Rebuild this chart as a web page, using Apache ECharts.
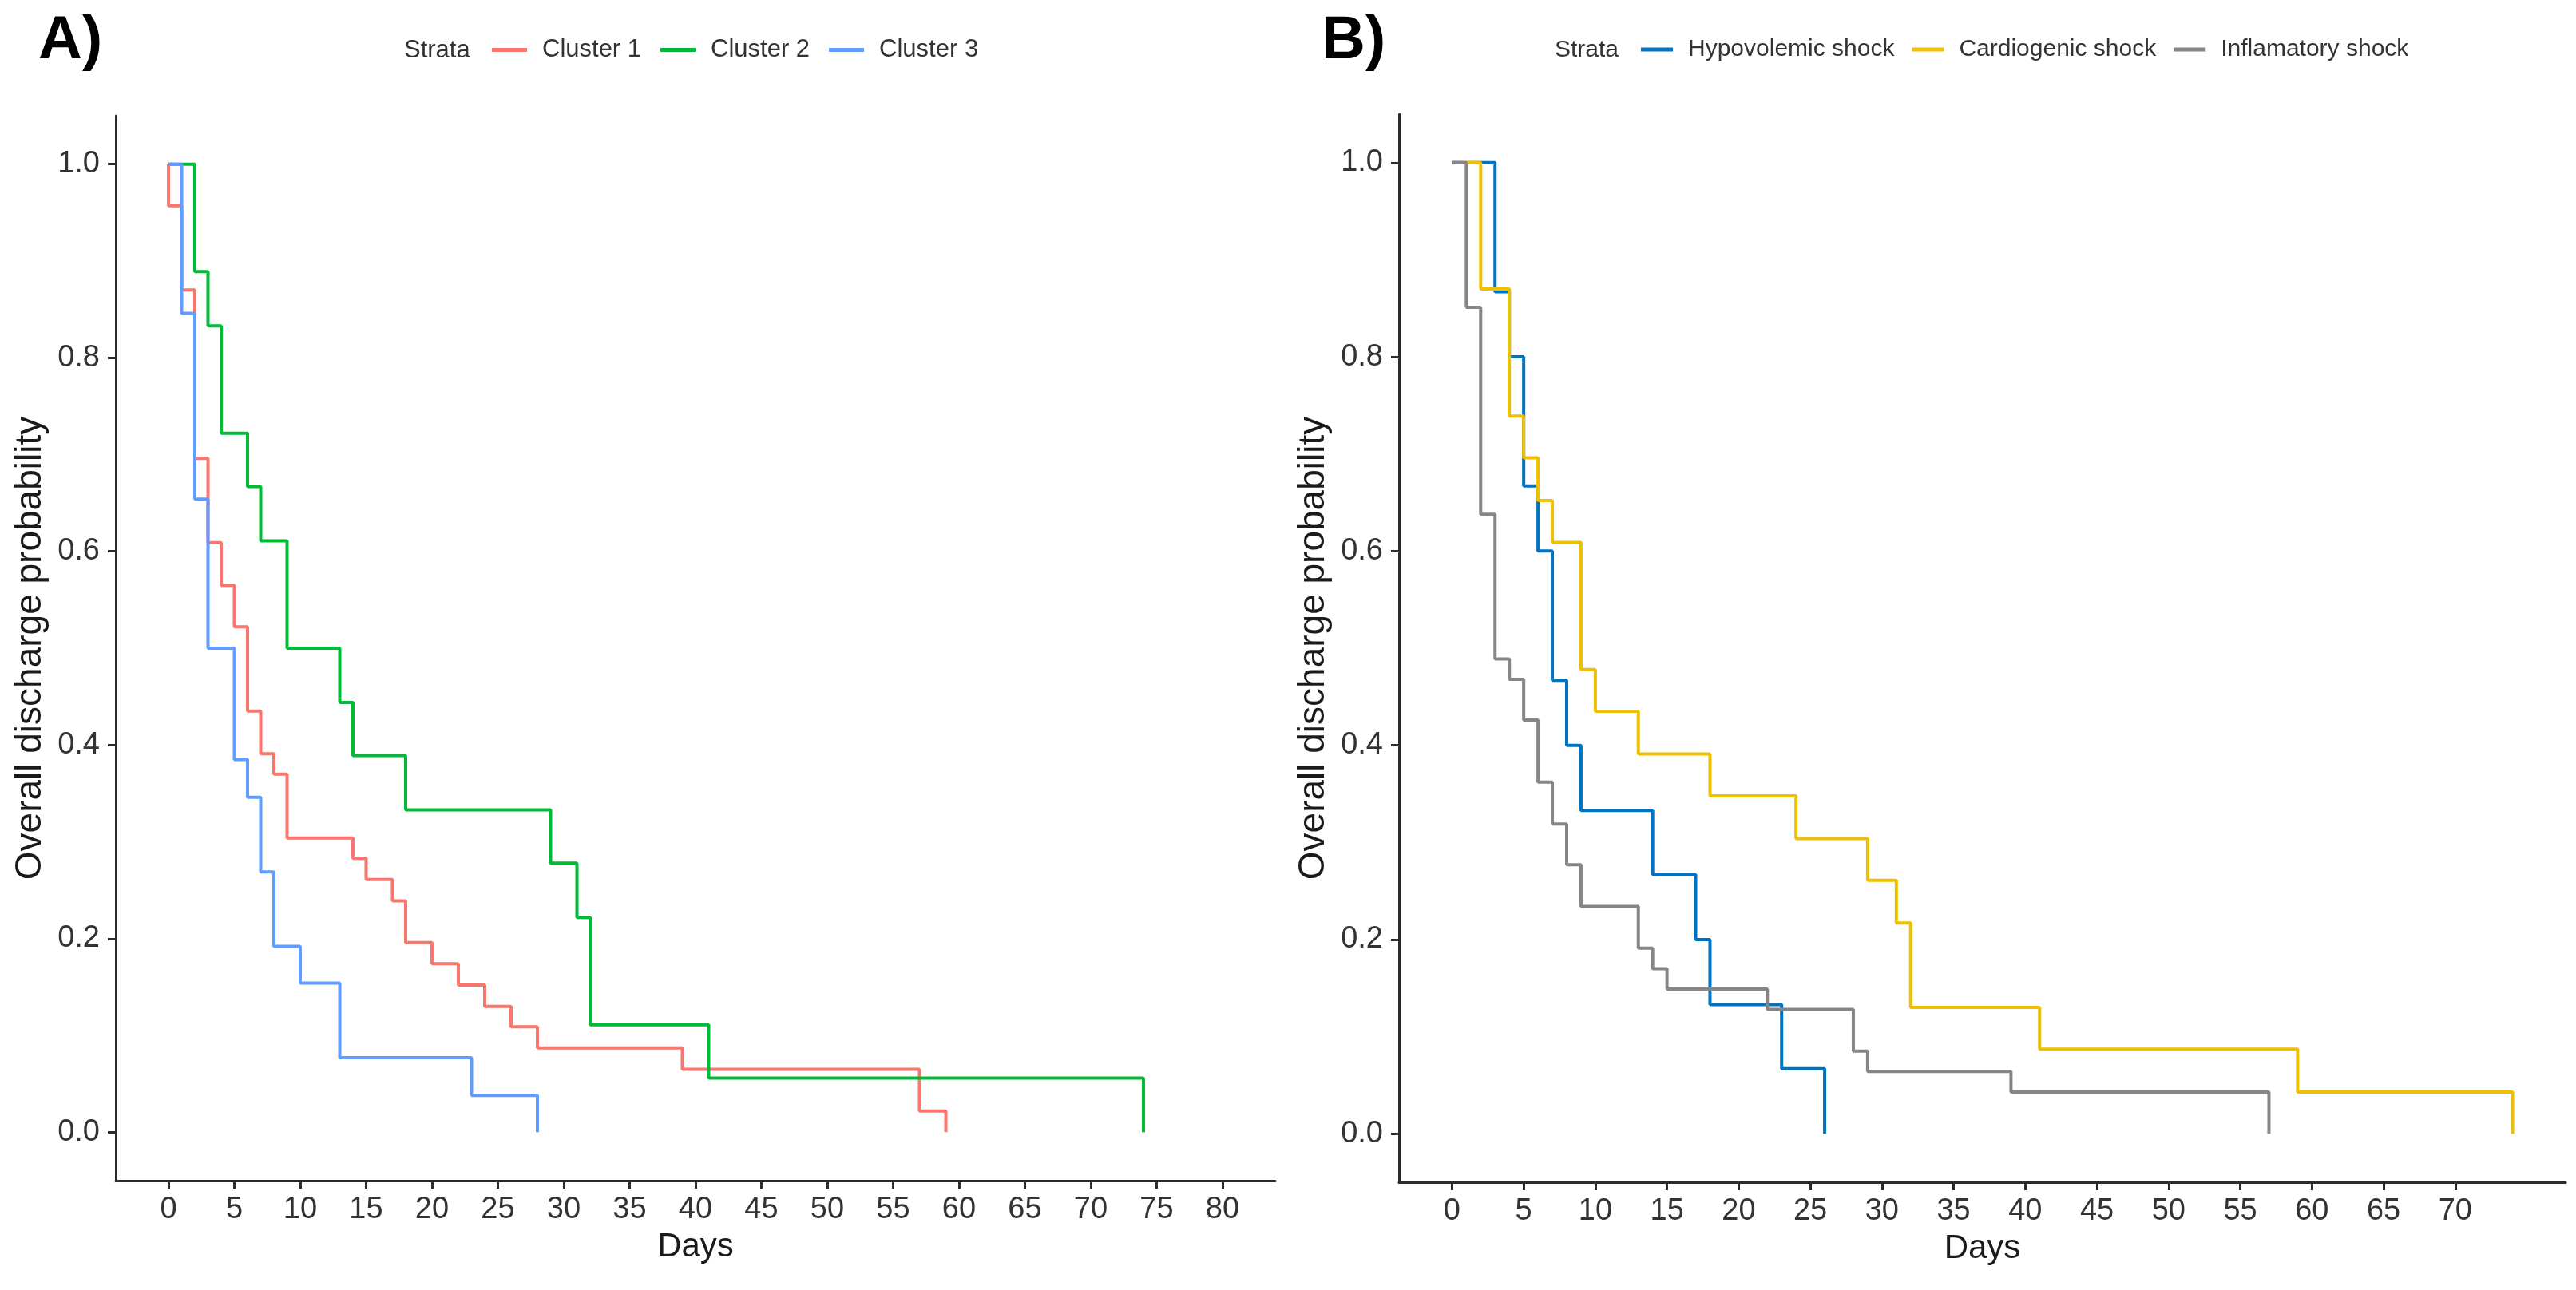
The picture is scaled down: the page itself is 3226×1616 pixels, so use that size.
<!DOCTYPE html>
<html>
<head>
<meta charset="utf-8">
<script src="https://cdn.jsdelivr.net/npm/echarts@6/dist/echarts.min.js"></script>
<style>
html,body{margin:0;padding:0;background:#fff;}
#c{width:3226px;height:1616px;}
</style>
</head>
<body>
<div id="c"></div>
<script>
// ---------- Panel A data (Kaplan-Meier steps: day of event, survival after it) ----------
const seriesNamesA = ['Cluster 1', 'Cluster 2', 'Cluster 3'];
const daysCluster1 = [0, 1, 2, 3, 4, 5, 6, 7, 8, 9, 14, 15, 17, 18, 20, 22, 24, 26, 28, 39, 57, 59];
const survCluster1 = [0.957, 0.870, 0.696, 0.609, 0.565, 0.522, 0.435, 0.391, 0.370, 0.304, 0.283, 0.261, 0.239, 0.196, 0.174, 0.152, 0.130, 0.109, 0.087, 0.065, 0.022, 0];
const daysCluster2 = [2, 3, 4, 6, 7, 9, 13, 14, 18, 29, 31, 32, 41, 74];
const survCluster2 = [0.889, 0.833, 0.722, 0.667, 0.611, 0.500, 0.444, 0.389, 0.333, 0.278, 0.222, 0.111, 0.056, 0];
const daysCluster3 = [1, 2, 3, 5, 6, 7, 8, 10, 13, 23, 28];
const survCluster3 = [0.846, 0.654, 0.500, 0.385, 0.346, 0.269, 0.192, 0.154, 0.077, 0.038, 0];
const xTicksA = [0, 5, 10, 15, 20, 25, 30, 35, 40, 45, 50, 55, 60, 65, 70, 75, 80];

// ---------- Panel B data ----------
const seriesNamesB = ['Hypovolemic shock', 'Cardiogenic shock', 'Inflamatory shock'];
const daysHypo = [3, 4, 5, 6, 7, 8, 9, 14, 17, 18, 23, 26];
const survHypo = [0.867, 0.800, 0.667, 0.600, 0.467, 0.400, 0.333, 0.267, 0.200, 0.133, 0.067, 0];
const daysCardio = [2, 4, 5, 6, 7, 9, 10, 13, 18, 24, 29, 31, 32, 41, 59, 74];
const survCardio = [0.870, 0.739, 0.696, 0.652, 0.609, 0.478, 0.435, 0.391, 0.348, 0.304, 0.261, 0.217, 0.130, 0.087, 0.043, 0];
const daysInflam = [1, 2, 3, 4, 5, 6, 7, 8, 9, 13, 14, 15, 22, 28, 29, 39, 57];
const survInflam = [0.851, 0.638, 0.489, 0.468, 0.426, 0.362, 0.319, 0.277, 0.234, 0.191, 0.170, 0.149, 0.128, 0.085, 0.064, 0.043, 0];
const xTicksB = [0, 5, 10, 15, 20, 25, 30, 35, 40, 45, 50, 55, 60, 65, 70];

const yTicks = [0, 0.2, 0.4, 0.6, 0.8, 1.0];

const colorsA = ['#F8766D', '#00BA38', '#619CFF'];
const colorsB = ['#0073C2', '#EFC000', '#868686'];

function km(days, surv) {
  const pts = [[0, 1]];
  days.forEach((d, i) => pts.push([d, surv[i]]));
  return pts;
}

const FONT = 'Liberation Sans, Arial, sans-serif';
const TICK_SIZE = 38;
const XTITLE_SIZE = 42;
const YTITLE_SIZE = 46;

function xAxisDef(idx, min, max, ticks) {
  return {
    type: 'value', gridIndex: idx, min: min, max: max,
    name: 'Days', nameLocation: 'middle', nameGap: 62,
    nameTextStyle: { fontFamily: FONT, fontSize: XTITLE_SIZE, color: '#1a1a1a' },
    axisLine: { show: true, onZero: false, lineStyle: { color: '#2b2b2b', width: 3 } },
    axisTick: { show: true, length: 10, customValues: ticks, lineStyle: { color: '#2b2b2b', width: 3 } },
    axisLabel: { customValues: ticks, margin: 18, fontFamily: FONT, fontSize: TICK_SIZE, color: '#333' },
    splitLine: { show: false }
  };
}
function yAxisDef(idx) {
  return {
    type: 'value', gridIndex: idx, min: -0.05, max: 1.05,
    name: 'Overall discharge probability', nameLocation: 'middle', nameGap: 84, nameRotate: 90,
    nameTextStyle: { fontFamily: FONT, fontSize: YTITLE_SIZE, color: '#1a1a1a' },
    axisLine: { show: true, onZero: false, lineStyle: { color: '#2b2b2b', width: 3 } },
    axisTick: { show: true, length: 10, customValues: yTicks, lineStyle: { color: '#2b2b2b', width: 3 } },
    axisLabel: { customValues: yTicks, margin: 20, fontFamily: FONT, fontSize: TICK_SIZE, color: '#333',
      formatter: v => Number(v).toFixed(1) },
    splitLine: { show: false }
  };
}
function lineSeries(name, data, color, idx) {
  return {
    name: name, type: 'line', step: 'end', data: data,
    xAxisIndex: idx, yAxisIndex: idx,
    showSymbol: false, symbol: 'none', clip: false,
    lineStyle: { color: color, width: 4 }, itemStyle: { color: color },
    emphasis: { disabled: true }
  };
}

const chart = echarts.init(document.getElementById('c'), null, { renderer: 'canvas' });
chart.setOption({
  animation: false,
  backgroundColor: '#ffffff',
  grid: [
    { left: 145, top: 145, width: 1452, height: 1334 },
    { left: 1752, top: 143, width: 1461, height: 1338 }
  ],
  xAxis: [xAxisDef(0, -4, 84, xTicksA), xAxisDef(1, -3.7, 77.7, xTicksB)],
  yAxis: [yAxisDef(0), yAxisDef(1)],
  legend: [
    { data: seriesNamesA, left: 611, top: 42, icon: 'rect', itemWidth: 44, itemHeight: 5, itemGap: 24,
      textStyle: { fontFamily: FONT, fontSize: 31, color: '#333', padding: [0, 0, 0, 14] } },
    { data: seriesNamesB, left: 2050, top: 42, icon: 'rect', itemWidth: 40, itemHeight: 5, itemGap: 22,
      textStyle: { fontFamily: FONT, fontSize: 30, color: '#333', padding: [0, 0, 0, 14] } }
  ],
  graphic: [
    { type: 'text', left: 48, top: 14, style: { text: 'A)', font: 'bold 76px ' + FONT, fill: '#000' } },
    { type: 'text', left: 1655, top: 14, style: { text: 'B)', font: 'bold 76px ' + FONT, fill: '#000' } },
    { type: 'text', left: 506, top: 48, style: { text: 'Strata', font: '31px ' + FONT, fill: '#333' } },
    { type: 'text', left: 1947, top: 48, style: { text: 'Strata', font: '30px ' + FONT, fill: '#333' } }
  ],
  series: [
    lineSeries(seriesNamesA[0], km(daysCluster1, survCluster1), colorsA[0], 0),
    lineSeries(seriesNamesA[1], km(daysCluster2, survCluster2), colorsA[1], 0),
    lineSeries(seriesNamesA[2], km(daysCluster3, survCluster3), colorsA[2], 0),
    lineSeries(seriesNamesB[0], km(daysHypo, survHypo), colorsB[0], 1),
    lineSeries(seriesNamesB[1], km(daysCardio, survCardio), colorsB[1], 1),
    lineSeries(seriesNamesB[2], km(daysInflam, survInflam), colorsB[2], 1)
  ]
});
</script>
</body>
</html>
